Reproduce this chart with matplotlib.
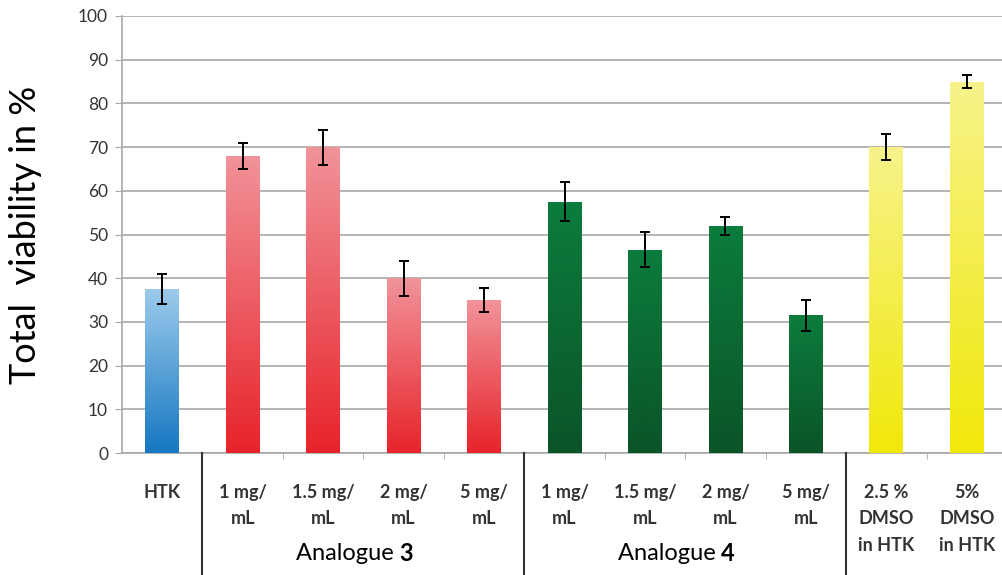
import numpy as np
import matplotlib
matplotlib.use("Agg")
import matplotlib.pyplot as plt
from matplotlib.colors import LinearSegmentedColormap

plt.rcParams['font.family'] = ['Lato', 'DejaVu Sans']

# data
labels = ["HTK", "1 mg/\nmL", "1.5 mg/\nmL", "2 mg/\nmL", "5 mg/\nmL",
          "1 mg/\nmL", "1.5 mg/\nmL", "2 mg/\nmL", "5 mg/\nmL",
          "2.5 %\nDMSO\nin HTK", "5%\nDMSO\nin HTK"]
viability = [37.5, 68, 70, 40, 35, 57.5, 46.5, 52, 31.5, 70, 85]
errors = [3.5, 3, 4, 4, 2.7, 4.5, 4, 2, 3.5, 3, 1.5]
groups = ["htk", "a3", "a3", "a3", "a3", "a4", "a4", "a4", "a4", "dmso", "dmso"]
group_names = [("Analogue ", "3", 1, 4), ("Analogue ", "4", 5, 8)]

# gradient colours top -> bottom
grad = {
    "htk": ("#9ccbeb", "#1677c2"),
    "a3": ("#f2939a", "#e8232a"),
    "a4": ("#0b7d3c", "#0b5428"),
    "dmso": ("#f7f38a", "#f1e80a"),
}

fig = plt.figure(figsize=(10.02, 5.75), dpi=100)
ax = fig.add_axes([122 / 1002, 122 / 575, 885 / 1002, 437 / 575])

x = np.arange(len(viability))
bars = ax.bar(x, viability, width=0.42, color="none", zorder=3)

for b, g in zip(bars, groups):
    cmap = LinearSegmentedColormap.from_list(g, [grad[g][1], grad[g][0]])
    bx, by = b.get_x(), b.get_y()
    w, h = b.get_width(), b.get_height()
    im = ax.imshow(np.linspace(0, 1, 256).reshape(-1, 1), cmap=cmap, origin="lower",
                   extent=[bx, bx + w, by, by + h], aspect="auto", zorder=3)
    im.set_clip_path(b)

ax.errorbar(x, viability, yerr=errors, fmt="none", ecolor="black",
            elinewidth=1.4, capsize=3.5, capthick=1.4, zorder=4)

ax.set_xlim(-0.5, len(viability) - 0.5)
ax.set_ylim(0, 100)
ax.set_yticks(np.arange(0, 101, 10))
ax.yaxis.grid(True, color="#a8a8a8", linewidth=1.2, zorder=0)
ax.set_axisbelow(True)

for s in ["top", "right"]:
    ax.spines[s].set_visible(False)
ax.spines["left"].set_color("#a8a8a8")
ax.spines["bottom"].set_color("#a8a8a8")
ax.spines["left"].set_linewidth(1.2)
ax.spines["bottom"].set_linewidth(1.2)

ax.tick_params(axis="y", length=5, color="#a8a8a8", labelsize=12.5, pad=5,
               labelcolor="#333333")

ax.set_xticks(x)
ax.set_xticklabels(labels, fontsize=13, linespacing=1.7, color="#333333",
                   fontweight="bold")
ax.tick_params(axis="x", length=0, pad=22)
ax.set_xticks(np.arange(0.5, len(viability) - 1, 1), minor=True)
ax.tick_params(axis="x", which="minor", length=4, color="#a8a8a8")

# group separators below the axis
for sep in [0.5, 4.5, 8.5]:
    ax.plot([sep, sep], [0, -30], color="#333333", linewidth=1.5, clip_on=False, zorder=5)

for word, num, i0, i1 in group_names:
    xc = (i0 + i1) / 2 + 0.45
    ax.text(xc, -23, word, ha="right", va="center", fontsize=17, clip_on=False)
    ax.text(xc, -23, num, ha="left", va="center", fontsize=17, fontweight="bold", clip_on=False)

ax.set_ylabel("Total  viability in %", fontsize=26, labelpad=26)

fig.savefig("out.png", dpi=100)
